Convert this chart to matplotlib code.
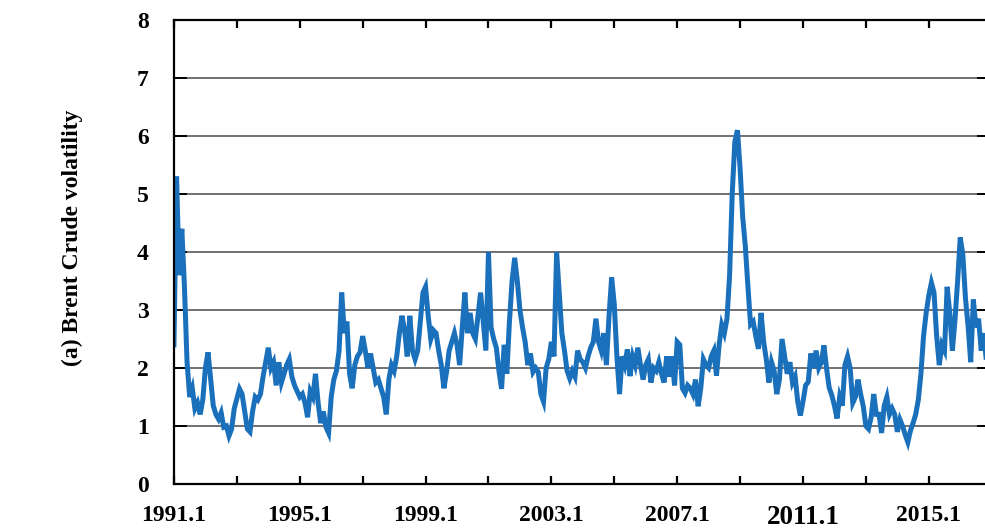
import numpy as np
import matplotlib
matplotlib.use("Agg")
import matplotlib.pyplot as plt

# monthly Brent crude volatility, starting Jan 1991
start_year = 1991
vol = [
    2.4, 5.3, 3.6, 4.4, 3.4, 2.1, 1.5, 1.65, 1.3, 1.4,
    1.2, 1.45, 2.0, 2.27, 1.8, 1.35, 1.2, 1.12, 1.23, 0.98,
    1.0, 0.83, 0.95, 1.3, 1.47, 1.64, 1.55, 1.25, 0.95, 0.9,
    1.25, 1.5, 1.45, 1.55, 1.85, 2.1, 2.35, 2.0, 2.1, 1.7,
    2.1, 1.75, 1.9, 2.05, 2.15, 1.85, 1.7, 1.6, 1.5, 1.55,
    1.4, 1.15, 1.6, 1.5, 1.9, 1.4, 1.05, 1.25, 0.98, 0.88,
    1.5, 1.8, 1.95, 2.3, 3.3, 2.6, 2.8, 1.9, 1.65, 2.05,
    2.2, 2.27, 2.55, 2.3, 2.0, 2.25, 2.0, 1.75, 1.8, 1.65,
    1.5, 1.2, 1.8, 2.05, 1.95, 2.2, 2.6, 2.9, 2.65, 2.2,
    2.9, 2.3, 2.15, 2.3, 2.8, 3.3, 3.4, 2.9, 2.5, 2.65,
    2.6, 2.3, 2.05, 1.65, 1.93, 2.3, 2.45, 2.6, 2.4, 2.05,
    2.7, 3.3, 2.6, 2.95, 2.6, 2.5, 2.9, 3.3, 2.8, 2.3,
    4.0, 2.7, 2.5, 2.35, 1.95, 1.64, 2.4, 1.9, 2.8, 3.5,
    3.9, 3.5, 3.0, 2.7, 2.45, 2.05, 2.25, 1.93, 2.0, 1.93,
    1.55, 1.42, 2.0, 2.15, 2.45, 2.2, 4.0, 3.3, 2.6, 2.3,
    1.95, 1.82, 1.95, 1.85, 2.3, 2.15, 2.1, 2.0, 2.2, 2.35,
    2.45, 2.85, 2.45, 2.3, 2.6, 2.05, 2.9, 3.56, 3.1, 2.2,
    1.55, 2.2, 2.05, 2.32, 1.86, 2.2, 2.05, 2.35, 2.05, 1.8,
    2.05, 2.15, 1.75, 2.0, 1.95, 2.1, 1.9, 1.75, 2.2, 1.85,
    2.2, 1.7, 2.45, 2.4, 1.65, 1.57, 1.7, 1.65, 1.55, 1.8,
    1.34, 1.65, 2.15, 2.05, 2.0, 2.2, 2.3, 1.87, 2.4, 2.74,
    2.6, 2.85, 3.6, 5.0, 5.9, 6.1, 5.44, 4.6, 4.1, 3.4,
    2.75, 2.8, 2.55, 2.33, 2.95, 2.45, 2.15, 1.75, 2.1, 1.95,
    1.55, 1.8, 2.5, 2.2, 1.9, 2.1, 1.75, 1.85, 1.42, 1.18,
    1.42, 1.7, 1.76, 2.25, 2.0, 2.3, 2.0, 2.1, 2.39, 1.99,
    1.66, 1.53, 1.35, 1.13, 1.5, 1.35, 2.05, 2.2, 2.0, 1.4,
    1.5, 1.8, 1.55, 1.34, 1.0, 0.95, 1.15, 1.55, 1.2, 1.2,
    0.88, 1.35, 1.5, 1.2, 1.3, 1.2, 0.9, 1.11, 1.0, 0.85,
    0.72, 0.92, 1.05, 1.2, 1.45, 1.9, 2.55, 2.95, 3.25, 3.47,
    3.3, 2.55, 2.05, 2.4, 2.3, 3.4, 2.95, 2.3, 2.83, 3.5,
    4.25, 3.95, 3.2, 2.72, 2.1, 3.18, 2.7, 2.85, 2.3, 2.6,
    2.1,
]
years = start_year + np.arange(len(vol)) / 12.0

major_ticks = np.arange(1991, 2017, 2)
label_years = [1991, 1995, 1999, 2003, 2007, 2011, 2015]
y_ticks = np.arange(0, 9, 1)

plt.rcParams["font.family"] = ["Liberation Serif", "DejaVu Serif"]
plt.rcParams["font.weight"] = "bold"

fig = plt.figure(figsize=(9.85, 5.30), dpi=100)
ax = fig.add_axes([0.1766, 0.0868, 0.8270, 0.8755])

ax.plot(years, vol, color="#1b70bb", lw=3.6, solid_joinstyle="miter")

ax.set_xlim(1991, 2016.9)
ax.set_ylim(0, 8)

ax.set_xticks(major_ticks)
ax.set_xticklabels([f"{y}.1" if y in label_years else "" for y in major_ticks])
ax.set_yticks(y_ticks)

ax.yaxis.grid(True, color="#4a4a4a", lw=1.1)
ax.set_axisbelow(True)

ax.tick_params(axis="x", direction="in", length=6, width=1.6, top=True,
               pad=15, labelsize=17)
ax.tick_params(axis="y", direction="in", length=9, width=1.4, right=True,
               pad=18, labelsize=17)
for lab in ax.get_xticklabels():
    lab.set_fontweight("bold")
    if lab.get_text() == "2011.1":
        lab.set_fontsize(19.5)
for lab in ax.get_yticklabels():
    lab.set_fontweight("bold")

for s in ax.spines.values():
    s.set_linewidth(1.6)
    s.set_color("black")

ax.set_ylabel("(a) Brent Crude volatility", fontsize=17, fontweight="bold")
ax.yaxis.set_label_coords(-0.112, 0.53)

fig.savefig("out.png", dpi=100)
